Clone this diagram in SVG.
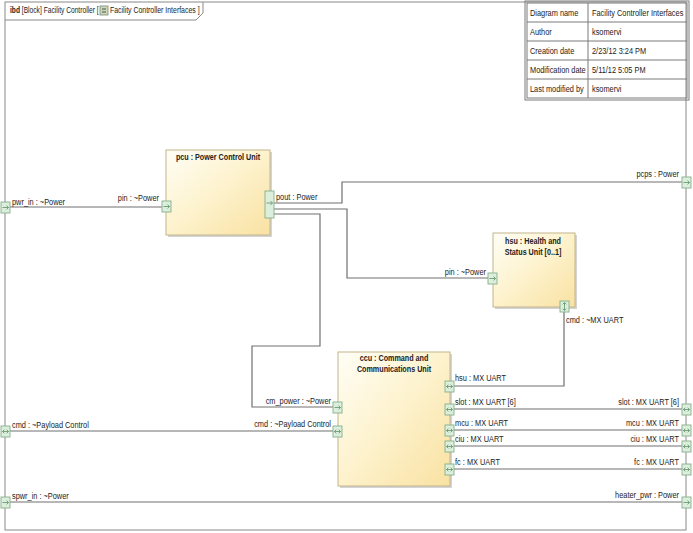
<svg xmlns="http://www.w3.org/2000/svg" xmlns:xlink="http://www.w3.org/1999/xlink" width="693" height="533" viewBox="0 0 693 533">
<style>
.t{font-family:"Liberation Sans",Arial,Helvetica,sans-serif;font-size:9px;fill:#222}
.b{font-weight:bold}
.frame{fill:#fff;stroke:#8a8a8a;stroke-width:1}
.tab{fill:none;stroke:#8a8a8a;stroke-width:1}
.tb{fill:none;stroke:#7a7a7a;stroke-width:1}
.blk{fill:url(#g);stroke:#c2b68c;stroke-width:1}
.sh{fill:#d4d4d4}
.port{fill:#dcefdc;stroke:#86b08c;stroke-width:.9}
.ar{fill:none;stroke:#5f8f66;stroke-width:.8}
.c{fill:none;stroke:#707070;stroke-width:1.2}
</style>
<defs>
<linearGradient id="g" x1="0" y1="0" x2="1" y2="1">
<stop offset="0" stop-color="#fffef6"/>
<stop offset=".5" stop-color="#fdf2cc"/>
<stop offset="1" stop-color="#f9e1a2"/>
</linearGradient>
<g id="pR"><rect class="port" x="0" y="0" width="9" height="11"/><path class="ar" d="M1.5,5.5H7.5M5.5,3.5L7.5,5.5L5.5,7.5"/></g>
<g id="pB"><rect class="port" x="0" y="0" width="9" height="11"/><path class="ar" d="M1.5,5.5H7.5M3.3,3.7L1.5,5.5L3.3,7.3M5.7,3.7L7.5,5.5L5.7,7.3"/></g>
<g id="pV"><rect class="port" x="0" y="0" width="9" height="11"/><path class="ar" d="M4.5,1.5V9.5M2.7,3.3L4.5,1.5L6.3,3.3M2.7,7.7L4.5,9.5L6.3,7.7"/></g>
</defs>

<g id="frame">
<rect class="frame" x="5" y="2" width="681" height="528"/>
<path class="tab" d="M5,20H196L203,13V2"/>
<text class="t" transform="translate(10 13) scale(.74 1)"><tspan class="b">ibd</tspan> [Block] Facility Controller [</text>
<rect x="100" y="6" width="8" height="9" fill="#cdd6c0" stroke="#7b8a6c" stroke-width=".8"/>
<rect x="102" y="8" width="4" height="2" fill="#8a9a78"/>
<rect x="102" y="11" width="4" height="2" fill="#8a9a78"/>
<text class="t" transform="translate(110 13) scale(.77 1)">Facility Controller Interfaces ]</text>
</g>

<g id="info-table">
<rect class="tb" x="525" y="1" width="164" height="99" fill="#fff"/>
<rect class="tb" x="527" y="3" width="160" height="95"/>
<path class="tb" d="M527,22H687M527,41H687M527,60H687M527,79H687M588,3V98"/>
<text class="t" transform="translate(530 16) scale(.82 1)">Diagram name</text>
<text class="t" transform="translate(592 16) scale(.82 1)">Facility Controller Interfaces</text>
<text class="t" transform="translate(530 35) scale(.82 1)">Author</text>
<text class="t" transform="translate(592 35) scale(.82 1)">ksomervi</text>
<text class="t" transform="translate(530 54) scale(.82 1)">Creation date</text>
<text class="t" transform="translate(592 54) scale(.82 1)">2/23/12 3:24 PM</text>
<text class="t" transform="translate(530 73) scale(.82 1)">Modification date</text>
<text class="t" transform="translate(592 73) scale(.82 1)">5/11/12 5:05 PM</text>
<text class="t" transform="translate(530 92) scale(.82 1)">Last modified by</text>
<text class="t" transform="translate(592 92) scale(.82 1)">ksomervi</text>
</g>

<g id="connectors">
<path class="c" d="M10,207H162"/>
<path class="c" d="M274,203H342V182H682"/>
<path class="c" d="M274,209H347V278H488"/>
<path class="c" d="M274,214H320V346H252V407H333"/>
<path class="c" d="M10,431H333"/>
<path class="c" d="M564,312V386H454"/>
<path class="c" d="M454,409H682"/>
<path class="c" d="M454,430H682"/>
<path class="c" d="M454,446H682"/>
<path class="c" d="M454,469H682"/>
<path class="c" d="M10,502H682"/>
</g>

<g id="pcu">
<rect class="sh" x="168" y="152" width="104" height="85"/>
<rect class="blk" x="166" y="150" width="104" height="85"/>
<text class="t b" text-anchor="middle" transform="translate(218 160) scale(.8 1)">pcu : Power Control Unit</text>
<use xlink:href="#pR" x="162" y="201"/>
<text class="t" text-anchor="end" transform="translate(159 201) scale(.82 1)">pin : ~Power</text>
<rect class="port" x="265" y="191" width="9" height="27"/>
<path class="ar" d="M266.5,203H272.5M270.5,201L272.5,203L270.5,205"/>
<text class="t" transform="translate(276 200) scale(.82 1)">pout : Power</text>
</g>

<g id="hsu">
<rect class="sh" x="495" y="235" width="82" height="74"/>
<rect class="blk" x="493" y="233" width="82" height="74"/>
<text class="t b" text-anchor="middle" transform="translate(533 244) scale(.8 1)">hsu : Health and</text>
<text class="t b" text-anchor="middle" transform="translate(533 255) scale(.8 1)">Status Unit [0..1]</text>
<use xlink:href="#pR" x="488" y="273"/>
<text class="t" text-anchor="end" transform="translate(486 275) scale(.82 1)">pin : ~Power</text>
<use xlink:href="#pV" x="560" y="301"/>
<text class="t" transform="translate(566 323) scale(.82 1)">cmd : ~MX UART</text>
</g>

<g id="ccu">
<rect class="sh" x="340" y="354" width="112" height="134"/>
<rect class="blk" x="338" y="352" width="112" height="134"/>
<text class="t b" text-anchor="middle" transform="translate(394 361) scale(.8 1)">ccu : Command and</text>
<text class="t b" text-anchor="middle" transform="translate(394 372) scale(.8 1)">Communications Unit</text>
<use xlink:href="#pR" x="333" y="402"/>
<text class="t" text-anchor="end" transform="translate(331 404) scale(.82 1)">cm_power : ~Power</text>
<use xlink:href="#pB" x="333" y="426"/>
<text class="t" text-anchor="end" transform="translate(331 427) scale(.82 1)">cmd : ~Payload Control</text>
<use xlink:href="#pB" x="445" y="381"/>
<text class="t" transform="translate(455 381) scale(.82 1)">hsu : MX UART</text>
<use xlink:href="#pB" x="445" y="404"/>
<text class="t" transform="translate(455 405) scale(.82 1)">slot : MX UART [6]</text>
<use xlink:href="#pB" x="445" y="425"/>
<text class="t" transform="translate(455 426) scale(.82 1)">mcu : MX UART</text>
<use xlink:href="#pB" x="445" y="441"/>
<text class="t" transform="translate(455 442) scale(.82 1)">ciu : MX UART</text>
<use xlink:href="#pB" x="445" y="464"/>
<text class="t" transform="translate(455 465) scale(.82 1)">fc : MX UART</text>
</g>

<g id="frame-ports">
<use xlink:href="#pR" x="1" y="202"/>
<text class="t" transform="translate(12 205) scale(.82 1)">pwr_in : ~Power</text>
<use xlink:href="#pB" x="1" y="426"/>
<text class="t" transform="translate(12 428) scale(.82 1)">cmd : ~Payload Control</text>
<use xlink:href="#pR" x="1" y="497"/>
<text class="t" transform="translate(12 499) scale(.82 1)">spwr_in : ~Power</text>
<use xlink:href="#pR" x="682" y="177"/>
<text class="t" text-anchor="end" transform="translate(679 177) scale(.82 1)">pcps : Power</text>
<use xlink:href="#pB" x="682" y="404"/>
<text class="t" text-anchor="end" transform="translate(679 405) scale(.82 1)">slot : MX UART [6]</text>
<use xlink:href="#pB" x="682" y="425"/>
<text class="t" text-anchor="end" transform="translate(679 426) scale(.82 1)">mcu : MX UART</text>
<use xlink:href="#pB" x="682" y="441"/>
<text class="t" text-anchor="end" transform="translate(679 442) scale(.82 1)">ciu : MX UART</text>
<use xlink:href="#pB" x="682" y="464"/>
<text class="t" text-anchor="end" transform="translate(679 465) scale(.82 1)">fc : MX UART</text>
<use xlink:href="#pR" x="682" y="497"/>
<text class="t" text-anchor="end" transform="translate(679 498) scale(.82 1)">heater_pwr : Power</text>
</g>
</svg>
